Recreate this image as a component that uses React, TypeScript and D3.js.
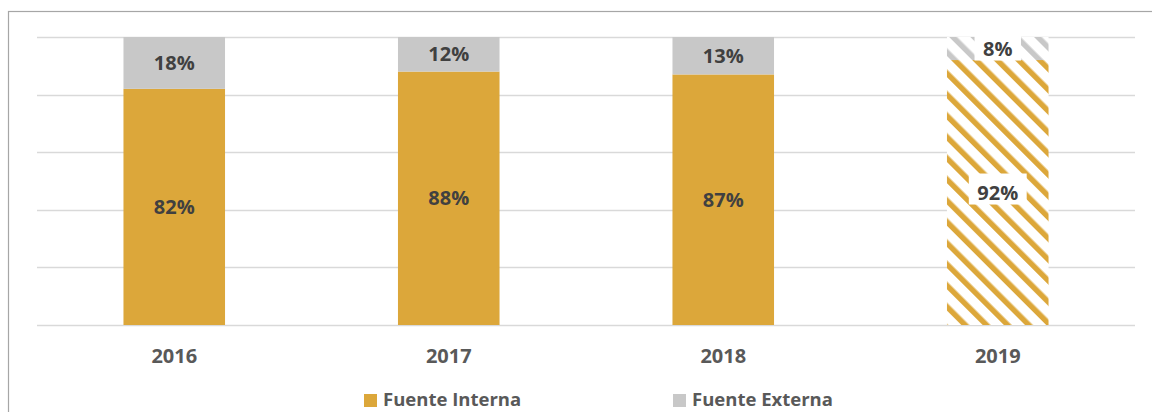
import React, { useEffect, useRef } from "react";
import * as d3 from "d3";

// chart data
const years = ["2016", "2017", "2018", "2019"];
const interna = [82, 88, 87, 92];
const externa = [18, 12, 13, 8];
const hatched = [false, false, false, true]; // 2019 drawn with stripes
const yTicks = [0, 20, 40, 60, 80, 100];
const seriesNames = ["Fuente Interna", "Fuente Externa"];

const ORANGE = "#dca73a";
const GRAY = "#c8c8c8";

const App = () => {
  const svgRef = useRef<SVGSVGElement | null>(null);
  const width = 1152;
  const height = 412;
  const margin = { top: 37, right: 17, bottom: 87, left: 37 };

  useEffect(() => {
    const svg = d3.select(svgRef.current);
    svg.selectAll("*").remove();

    const font = "'Open Sans', 'Liberation Sans', sans-serif";

    //// Scales
    const xScale = d3
      .scaleBand()
      .domain(years)
      .range([margin.left, width - margin.right])
      .paddingInner(0.63)
      .paddingOuter(0.315);

    const yScale = d3
      .scaleLinear()
      .domain([0, 100])
      .range([height - margin.bottom, margin.top]);

    //// Patterns for the hatched year
    const defs = svg.append("defs");
    const makePattern = (id: string, color: string) => {
      const p = defs
        .append("pattern")
        .attr("id", id)
        .attr("patternUnits", "userSpaceOnUse")
        .attr("width", 15)
        .attr("height", 15)
        .attr("patternTransform", "rotate(-45)");
      p.append("rect").attr("width", 15).attr("height", 15).attr("fill", "#ffffff");
      p.append("rect").attr("x", 0).attr("width", 5.5).attr("height", 15).attr("fill", color);
    };
    makePattern("hatch-interna", ORANGE);
    makePattern("hatch-externa", GRAY);

    //// Outer frame
    svg
      .append("rect")
      .attr("x", 8.5)
      .attr("y", 11.5)
      .attr("width", 1200)
      .attr("height", 500)
      .attr("fill", "none")
      .attr("stroke", "#a6a6a6")
      .attr("stroke-width", 1.2);

    //// Grid
    svg
      .append("g")
      .selectAll("line")
      .data(yTicks)
      .join("line")
      .attr("x1", margin.left)
      .attr("x2", width - margin.right)
      .attr("y1", (d) => Math.round(yScale(d)) + 0.5)
      .attr("y2", (d) => Math.round(yScale(d)) + 0.5)
      .attr("stroke", "#d9d9d9")
      .attr("stroke-width", 1.3);

    //// Bars
    const rows = years.map((y, i) => ({
      year: y,
      interna: interna[i],
      externa: externa[i],
      hatched: hatched[i],
    }));

    const bars = svg.append("g");
    rows.forEach((d) => {
      const x = xScale(d.year) as number;
      const bw = xScale.bandwidth();
      bars
        .append("rect")
        .attr("x", x)
        .attr("width", bw)
        .attr("y", yScale(d.interna))
        .attr("height", yScale(0) - yScale(d.interna))
        .attr("fill", d.hatched ? "url(#hatch-interna)" : ORANGE);
      bars
        .append("rect")
        .attr("x", x)
        .attr("width", bw)
        .attr("y", yScale(d.interna + d.externa))
        .attr("height", yScale(d.interna) - yScale(d.interna + d.externa))
        .attr("fill", d.hatched ? "url(#hatch-externa)" : GRAY);
    });

    //// Data labels
    const labels = svg.append("g");
    rows.forEach((d) => {
      const cx = (xScale(d.year) as number) + xScale.bandwidth() / 2;
      const segs = [
        { v: d.interna, mid: yScale(d.interna / 2) },
        { v: d.externa, mid: yScale(d.interna + d.externa / 2) },
      ];
      segs.forEach((s) => {
        const g = labels.append("g");
        const t = g
          .append("text")
          .attr("x", cx)
          .attr("y", s.mid)
          .attr("dy", "0.36em")
          .attr("text-anchor", "middle")
          .attr("font-family", font)
          .attr("font-weight", 700)
          .attr("font-size", 20)
          .attr("fill", "#404040")
          .text(`${s.v}%`);
        if (d.hatched) {
          const tw = (t.node() as SVGTextElement).getComputedTextLength();
          g.insert("rect", "text")
            .attr("x", cx - tw / 2 - 8.5)
            .attr("y", s.mid - 19)
            .attr("width", tw + 17)
            .attr("height", 31)
            .attr("fill", "#ffffff");
        }
      });
    });

    //// X axis labels
    svg
      .append("g")
      .selectAll("text")
      .data(years)
      .join("text")
      .attr("x", (d) => (xScale(d) as number) + xScale.bandwidth() / 2)
      .attr("y", 363)
      .attr("text-anchor", "middle")
      .attr("font-family", font)
      .attr("font-weight", 700)
      .attr("font-size", 20)
      .attr("fill", "#595959")
      .text((d) => d);

    //// Legend
    const legendX = [364, 673];
    const legendColors = [ORANGE, GRAY];
    const legend = svg.append("g");
    seriesNames.forEach((name, i) => {
      legend
        .append("rect")
        .attr("x", legendX[i])
        .attr("y", 394)
        .attr("width", 13)
        .attr("height", 13)
        .attr("fill", legendColors[i]);
      legend
        .append("text")
        .attr("x", legendX[i] + 19)
        .attr("y", 406)
        .attr("font-family", font)
        .attr("font-weight", 700)
        .attr("font-size", 18.5)
        .attr("fill", "#595959")
        .text(name);
    });
  }, []);

  return (
    <svg
      ref={svgRef}
      width={width}
      height={height}
      style={{ position: "absolute", left: 0, top: 0, background: "#ffffff" }}
    ></svg>
  );
};

export default App;
